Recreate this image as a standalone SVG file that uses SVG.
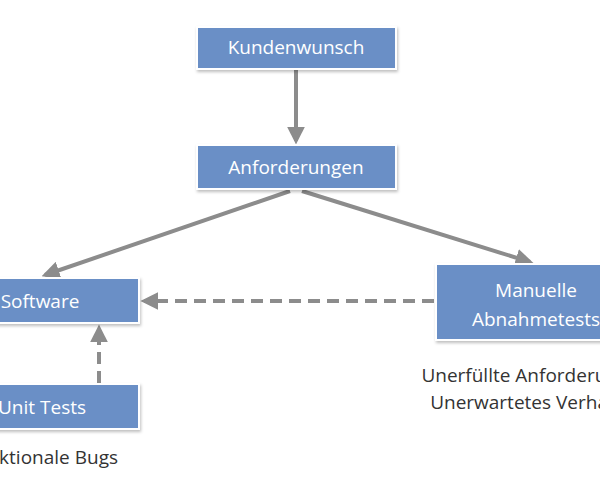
<svg xmlns="http://www.w3.org/2000/svg" width="600" height="480" viewBox="0 0 600 480">
<style>
.box{fill:#6b8fc6;stroke:#ffffff;stroke-width:2;filter:url(#sh)}
.t{font-family:"Open Sans","Liberation Sans",sans-serif;font-size:19px;fill:#fff;text-anchor:middle}
.c{font-family:"Open Sans","Liberation Sans",sans-serif;font-size:19px;fill:#333;text-anchor:middle}
.e{stroke:#8c8c8c;stroke-width:4;fill:none}
.d{stroke-dasharray:12,7}
</style>
<defs>
<filter id="sh" x="-10%" y="-10%" width="120%" height="130%"><feDropShadow dx="1" dy="2" stdDeviation="1.5" flood-color="#000" flood-opacity="0.25"/></filter>
<marker id="a" viewBox="0 0 10 10" refX="8" refY="5" markerWidth="4.5" markerHeight="4.5" orient="auto"><path d="M0,0L10,5L0,10z" fill="#8c8c8c"/></marker>
</defs>
<rect width="600" height="480" fill="#fff"/>
<g id="connectors">
<line class="e" x1="296" y1="69" x2="296" y2="141" marker-end="url(#a)"/>
<line class="e" x1="290" y1="191" x2="45" y2="275" marker-end="url(#a)"/>
<line class="e" x1="302" y1="191" x2="530" y2="262" marker-end="url(#a)"/>
<line class="e d" x1="434" y1="301" x2="144" y2="301" marker-end="url(#a)"/>
<line class="e d" x1="99" y1="383" x2="99" y2="328" marker-end="url(#a)"/>
</g>
<g id="kundenwunsch"><rect class="box" x="197" y="27" width="199" height="42"/><text class="t" x="296" y="54">Kundenwunsch</text></g>
<g id="anforderungen"><rect class="box" x="197" y="145" width="199" height="44"/><text class="t" x="296" y="174">Anforderungen</text></g>
<g id="software"><rect class="box" x="-60" y="278" width="199" height="45"/><text class="t" x="40" y="308">Software</text></g>
<g id="unittests"><rect class="box" x="-60" y="384" width="199" height="45"/><text class="t" x="42" y="414">Unit Tests</text><text class="c" x="42" y="464">Funktionale Bugs</text></g>
<g id="manuelle"><rect class="box" x="436" y="264" width="200" height="76"/><text class="t" x="536" y="297">Manuelle</text><text class="t" x="536" y="326">Abnahmetests</text><text class="c" x="536" y="382">Unerfüllte Anforderungen</text><text class="c" x="536" y="409">Unerwartetes Verhalten</text></g>
</svg>
